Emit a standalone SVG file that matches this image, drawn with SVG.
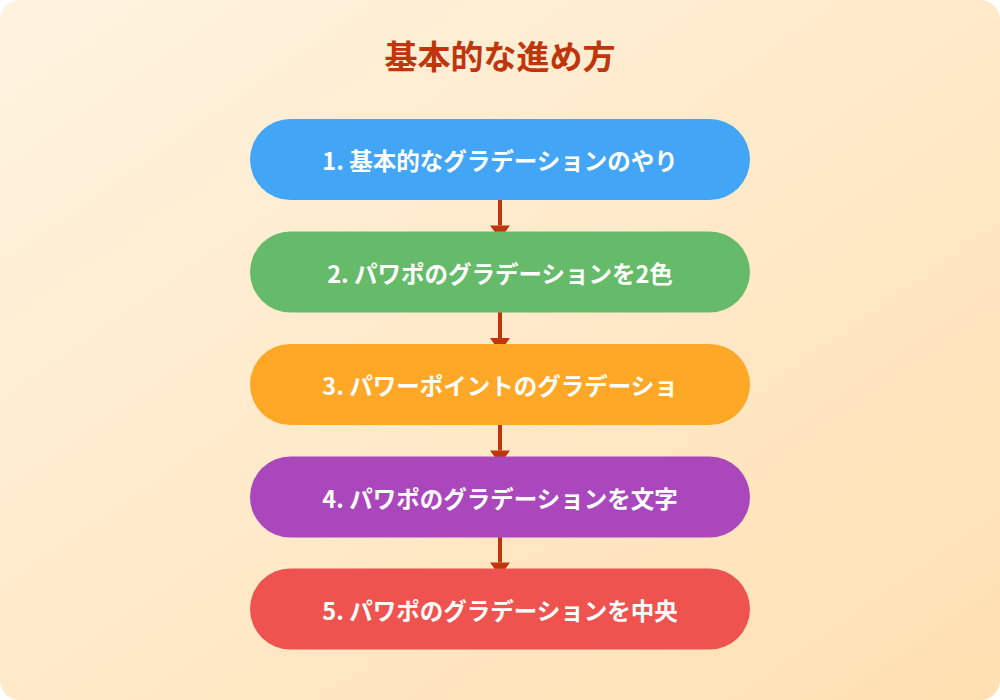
<svg xmlns="http://www.w3.org/2000/svg" width="1000" height="700" viewBox="0 0 1000 700">
  <defs>
    <linearGradient id="bg" x1="0" y1="0" x2="1" y2="1">
      <stop offset="0" stop-color="#FFF3E0"/>
      <stop offset="1" stop-color="#FFE0B2"/>
    </linearGradient>
    <style>
      .title { font-family: "Noto Sans CJK JP", "Noto Sans", sans-serif; font-size: 33px; font-weight: bold; fill: #BF360C; }
      .label { font-family: "Noto Sans CJK JP", "Noto Sans", sans-serif; font-size: 23.5px; font-weight: bold; fill: #FFFFFF; }
      .conn { stroke: #BF360C; stroke-width: 4; fill: none; }
      .head { fill: #BF360C; }
    </style>
  </defs>
  <rect x="0" y="0" width="1000" height="700" fill="#FFFFFF"/>
  <rect x="0" y="0" width="1000" height="700" rx="20" ry="20" fill="url(#bg)"/>
  <text class="title" x="500" y="55" text-anchor="middle" dominant-baseline="central">基本的な進め方</text>

  <g id="connectors">
    <path class="conn" d="M500,200 V225.5"/>
    <path class="head" d="M490,225.5 L510,225.5 L500,239 Z"/>
    <path class="conn" d="M500,312 V338"/>
    <path class="head" d="M490,338 L510,338 L500,352 Z"/>
    <path class="conn" d="M500,425 V450.5"/>
    <path class="head" d="M490,450.5 L510,450.5 L500,464 Z"/>
    <path class="conn" d="M500,537 V562.5"/>
    <path class="head" d="M490,562.5 L510,562.5 L500,576 Z"/>
  </g>

  <g id="node1">
    <rect x="250" y="119" width="500" height="81" rx="40.5" fill="#42A5F5"/>
    <text class="label" x="500" y="160" text-anchor="middle" dominant-baseline="central">1. 基本的なグラデーションのやり</text>
  </g>
  <g id="node2">
    <rect x="250" y="231.5" width="500" height="81" rx="40.5" fill="#66BB6A"/>
    <text class="label" x="500" y="272.5" text-anchor="middle" dominant-baseline="central">2. パワポのグラデーションを2色</text>
  </g>
  <g id="node3">
    <rect x="250" y="344" width="500" height="81" rx="40.5" fill="#FFA726"/>
    <text class="label" x="500" y="385" text-anchor="middle" dominant-baseline="central">3. パワーポイントのグラデーショ</text>
  </g>
  <g id="node4">
    <rect x="250" y="456.5" width="500" height="81" rx="40.5" fill="#AB47BC"/>
    <text class="label" x="500" y="497.5" text-anchor="middle" dominant-baseline="central">4. パワポのグラデーションを文字</text>
  </g>
  <g id="node5">
    <rect x="250" y="568.5" width="500" height="81" rx="40.5" fill="#EF5350"/>
    <text class="label" x="500" y="609.5" text-anchor="middle" dominant-baseline="central">5. パワポのグラデーションを中央</text>
  </g>
</svg>
